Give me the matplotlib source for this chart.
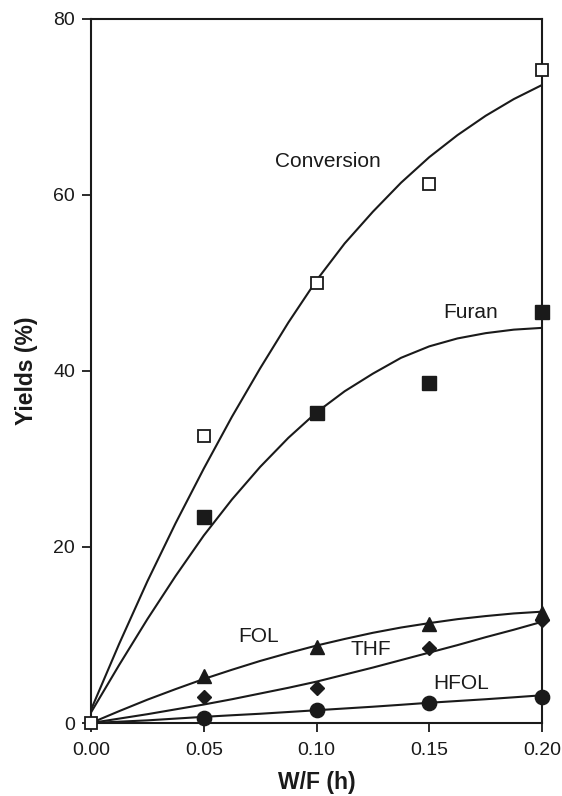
import matplotlib
matplotlib.use("Agg")
import matplotlib.pyplot as plt

plt.rcParams['font.family'] = ['Liberation Sans', 'DejaVu Sans']

# Measured data points
wf = [0.05, 0.10, 0.15, 0.20]
conv_x = [0.0, 0.05, 0.10, 0.15, 0.20]
conversion = [0.0, 32.6, 50.0, 61.3, 74.2]
furan = [23.4, 35.2, 38.6, 46.7]
fol = [5.3, 8.6, 11.3, 12.5]
thf = [2.9, 4.0, 8.5, 11.7]
hfol = [0.6, 1.5, 2.3, 3.0]

# Fitted curves (values every 0.0125 h)
fit_x = [0.0, 0.0125, 0.025, 0.0375, 0.05, 0.0625, 0.075, 0.0875, 0.10,
         0.1125, 0.125, 0.1375, 0.15, 0.1625, 0.175, 0.1875, 0.20]
conversion_fit = [1.5, 9.0, 16.1, 22.7, 28.9, 34.8, 40.3, 45.5, 50.3,
                  54.5, 58.1, 61.4, 64.3, 66.8, 69.0, 70.9, 72.5]
furan_fit = [1.2, 6.6, 11.8, 16.7, 21.3, 25.4, 29.1, 32.4, 35.3,
             37.7, 39.7, 41.5, 42.8, 43.7, 44.3, 44.7, 44.9]
fol_fit = [0.0, 1.35, 2.65, 3.85, 5.0, 6.05, 7.05, 7.95, 8.8,
           9.55, 10.25, 10.85, 11.35, 11.8, 12.15, 12.45, 12.65]
thf_fit = [0.0, 0.5, 1.0, 1.55, 2.1, 2.7, 3.35, 4.0, 4.7,
           5.5, 6.3, 7.15, 8.0, 8.85, 9.75, 10.6, 11.5]
hfol_fit = [0.0, 0.15, 0.3, 0.5, 0.7, 0.88, 1.05, 1.25, 1.45,
            1.65, 1.85, 2.07, 2.3, 2.5, 2.7, 2.92, 3.15]

xticks = [0.00, 0.05, 0.10, 0.15, 0.20]
xticklabels = ["0.00", "0.05", "0.10", "0.15", "0.20"]
yticks = [0, 20, 40, 60, 80]

ink = '#1a1a1a'
fig = plt.figure(figsize=(5.62, 7.96), dpi=100)
ax = fig.add_axes([91/562, 1-723/796, (542-91)/562, (723-19)/796])

lw = 1.5
for fy in [conversion_fit, furan_fit, fol_fit, thf_fit, hfol_fit]:
    ax.plot(fit_x, fy, color=ink, lw=lw, solid_capstyle='round',
            solid_joinstyle='round', zorder=2)

mk = dict(clip_on=False, zorder=3, linestyle='none')
ax.plot(conv_x, conversion, marker='s', ms=9.3, mfc='white', mec=ink, mew=1.3, **mk)
ax.plot(wf, furan, marker='s', ms=9.5, mfc=ink, mec=ink, mew=1, **mk)
ax.plot(wf, fol, marker='^', ms=9.5, mfc=ink, mec=ink, mew=1, **mk)
ax.plot(wf, thf, marker='D', ms=6.8, mfc=ink, mec=ink, mew=1, **mk)
ax.plot(wf, hfol, marker='o', ms=10.3, mfc=ink, mec=ink, mew=1, **mk)

ax.set_xlim(0, 0.20)
ax.set_ylim(0, 80)
ax.set_xticks(xticks)
ax.set_xticklabels(xticklabels)
ax.set_yticks(yticks)
ax.tick_params(axis='both', direction='out', length=6.5, width=1.3, labelsize=14,
               colors=ink)
ax.tick_params(axis='x', pad=7)
ax.tick_params(axis='y', pad=5)
for s in ax.spines.values():
    s.set_linewidth(1.5)
    s.set_color(ink)

ax.set_xlabel("W/F (h)", fontsize=16.5, fontweight='bold', labelpad=9, color=ink)
ax.set_ylabel("Yields (%)", fontsize=16.5, fontweight='bold', labelpad=11, color=ink)

tk = dict(fontsize=15, va='center', ha='left', color=ink)
ax.text(0.0818, 63.8, "Conversion", **tk)
ax.text(0.1564, 46.6, "Furan", **tk)
ax.text(0.0653, 9.8, "FOL", **tk)
ax.text(0.1151, 8.3, "THF", **tk)
ax.text(0.1516, 4.5, "HFOL", **tk)

fig.savefig("out.png", dpi=100)
